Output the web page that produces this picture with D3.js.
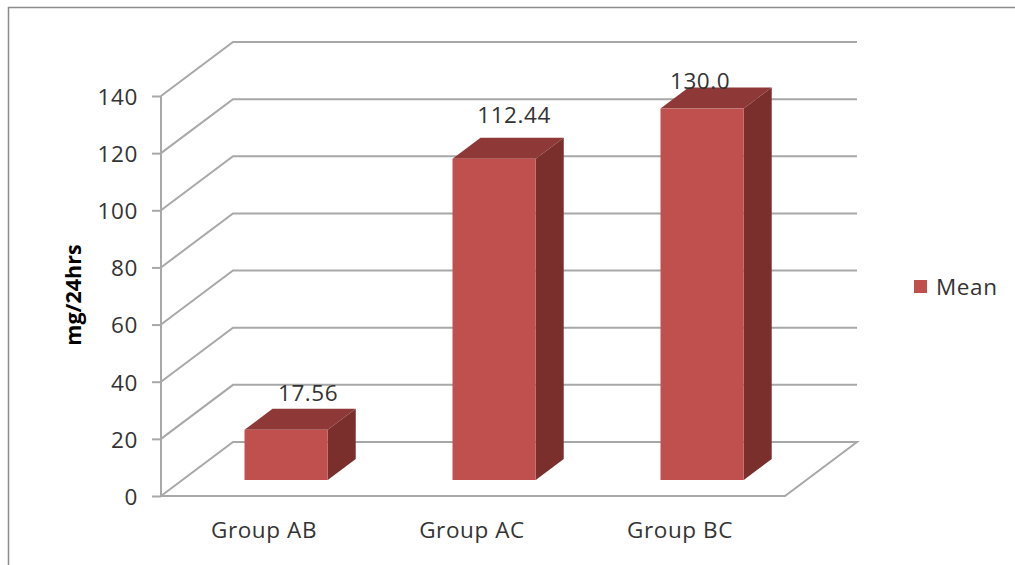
<!DOCTYPE html>
<html>
<head>
<meta charset="utf-8">
<script src="https://cdn.jsdelivr.net/npm/d3@7/dist/d3.min.js"></script>
<style>
  html, body { margin: 0; padding: 0; background: #fff; }
  svg { display: block; }
  text { font-family: "Open Sans", "Noto Sans", sans-serif; fill: #333; }
</style>
</head>
<body>
<svg id="chart" width="1015" height="565"></svg>
<script>
// Chart data
const categories = ["Group AB", "Group AC", "Group BC"];
const meanValues = [17.56, 112.44, 130.0];
const valueLabels = ["17.56", "112.44", "130.0"];
const yTicks = [0, 20, 40, 60, 80, 100, 120, 140];
const seriesName = "Mean";
const yTitle = "mg/24hrs";

// Hand-placed data label offsets from the back-top edge of each bar
const labelShiftX = [22, 20, -2];
const labelShiftY = [-16, -23, -6];

const svg = d3.select("#chart");
const gridColor = "#a8a8a8";
const labelSize = "22.5px";
const labelSpacing = "0.6px";

// Projection of the 3D box: the floor recedes up and to the right
const wallDx = 72, wallDy = -54;
const barDx = 28, barDy = -21;
const barLift = 16;   // bars stand slightly behind the front floor edge

const y = d3.scaleLinear().domain([0, 140]).range([496, 96]);
const x = d3.scaleBand().domain(categories).range([161, 785]).paddingInner(0).paddingOuter(0);
const barWidth = x.bandwidth() * 0.4;

// Outer chart frame (top and left edges)
svg.append("path")
  .attr("d", "M8.5,565V7.5H1015")
  .attr("fill", "none").attr("stroke", "#8c8c8c").attr("stroke-width", 1.5);

// Gridlines along the side and back walls
const grid = svg.append("g").attr("fill", "none").attr("stroke", gridColor).attr("stroke-width", 2);
yTicks.forEach(t => {
  const px = x.range()[0], py = y(t);
  if (t === 0) {
    // Floor outline
    grid.append("path").attr("d", d3.line()([
      [px, py], [px + wallDx, py + wallDy], [x.range()[1] + wallDx, py + wallDy],
      [x.range()[1], py], [px, py]
    ]));
  } else {
    grid.append("path").attr("d", d3.line()([
      [px, py], [px + wallDx, py + wallDy], [x.range()[1] + wallDx, py + wallDy]
    ]));
  }
});

// Value axis with outward ticks
const axis = svg.append("g")
  .attr("transform", `translate(${x.range()[0]},0)`)
  .call(d3.axisLeft(y).tickValues(yTicks).tickSize(9).tickPadding(14).tickSizeOuter(0));
axis.selectAll("path, line").attr("stroke", gridColor).attr("stroke-width", 2);
axis.selectAll("text")
  .style("font-size", labelSize).style("letter-spacing", labelSpacing)
  .attr("fill", "#333").attr("dy", "0.37em");
axis.select(".domain").attr("d", `M0,${y(140)}V${y(0)}`);

// Category labels
const catAxis = svg.append("g")
  .attr("transform", `translate(-1,${y(0)})`)
  .call(d3.axisBottom(x).tickSize(0).tickPadding(26));
catAxis.select(".domain").remove();
catAxis.selectAll("text")
  .style("font-size", labelSize).style("letter-spacing", labelSpacing)
  .attr("fill", "#333");

// Bars as three-faced boxes
const baseY = y(0) - barLift;
const barLeft = c => x(c) + (x.bandwidth() - barWidth) / 2 + barLift * 1.32;
const barTop = v => baseY - (y(0) - y(v));

const bars = svg.append("g").selectAll("g")
  .data(categories.map((c, i) => ({ c, v: meanValues[i], i })))
  .join("g");

bars.append("path").attr("fill", "#8e3937").attr("d", d => {
  const l = barLeft(d.c), t = barTop(d.v);
  return d3.line()([[l, t], [l + barDx, t + barDy], [l + barWidth + barDx, t + barDy], [l + barWidth, t]]) + "Z";
});
bars.append("path").attr("fill", "#7a2f2d").attr("d", d => {
  const r = barLeft(d.c) + barWidth, t = barTop(d.v);
  return d3.line()([[r, t], [r + barDx, t + barDy], [r + barDx, baseY + barDy], [r, baseY]]) + "Z";
});
bars.append("rect").attr("fill", "#c0504d")
  .attr("x", d => barLeft(d.c))
  .attr("y", d => barTop(d.v))
  .attr("width", barWidth)
  .attr("height", d => baseY - barTop(d.v));

// Data labels
bars.append("text")
  .attr("text-anchor", "middle")
  .style("font-size", labelSize).style("letter-spacing", labelSpacing)
  .attr("x", d => barLeft(d.c) + barWidth / 2 + labelShiftX[d.i])
  .attr("y", d => barTop(d.v) + barDy + labelShiftY[d.i])
  .attr("dy", "0.35em")
  .text(d => valueLabels[d.i]);

// Axis title
svg.append("text")
  .attr("transform", "translate(73,295) rotate(-90)")
  .attr("text-anchor", "middle")
  .attr("dy", "0.35em")
  .style("font-size", "21.5px").style("font-weight", "700")
  .style("fill", "#000")
  .text(yTitle);

// Legend
svg.append("rect").attr("x", 914).attr("y", 280).attr("width", 13).attr("height", 13).attr("fill", "#c0504d");
svg.append("text").attr("x", 936).attr("y", 287).attr("dy", "0.35em")
  .style("font-size", labelSize).style("letter-spacing", labelSpacing).text(seriesName);
</script>
</body>
</html>
